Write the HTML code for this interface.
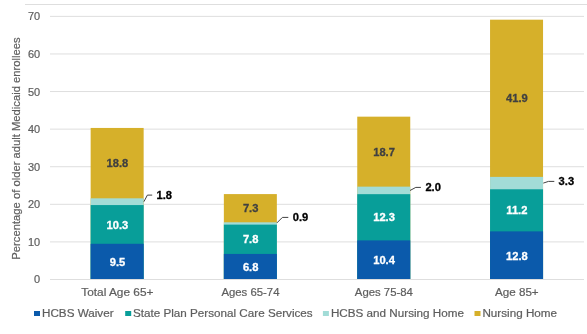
<!DOCTYPE html>
<html><head><meta charset="utf-8"><title>Chart</title><style>
html,body{margin:0;padding:0;background:#fff;width:587px;height:334px;overflow:hidden}
svg{display:block;will-change:transform}
text{font-family:"Liberation Sans",sans-serif}
.ax{font-size:10.4px;fill:#5e5e5e;stroke:#5e5e5e;stroke-width:0.2px}
.ttl{font-size:11.24px}
.dl{font-size:10.9px;font-weight:bold;stroke-width:0.3px}
</style></head><body>
<svg width="587" height="334" viewBox="0 0 587 334">
<line x1="25" y1="4.5" x2="587" y2="4.5" stroke="#dedede" stroke-width="1"/>
<line x1="50" y1="279.50" x2="584" y2="279.50" stroke="#dedede" stroke-width="1"/>
<text transform="translate(40.20,283.45) scale(1.0577,1)" class="ax" text-anchor="end">0</text>
<line x1="50" y1="241.91" x2="584" y2="241.91" stroke="#dedede" stroke-width="1"/>
<text transform="translate(40.20,245.86) scale(1.0577,1)" class="ax" text-anchor="end">10</text>
<line x1="50" y1="204.32" x2="584" y2="204.32" stroke="#dedede" stroke-width="1"/>
<text transform="translate(40.20,208.27) scale(1.0577,1)" class="ax" text-anchor="end">20</text>
<line x1="50" y1="166.73" x2="584" y2="166.73" stroke="#dedede" stroke-width="1"/>
<text transform="translate(40.20,170.68) scale(1.0577,1)" class="ax" text-anchor="end">30</text>
<line x1="50" y1="129.14" x2="584" y2="129.14" stroke="#dedede" stroke-width="1"/>
<text transform="translate(40.20,133.09) scale(1.0577,1)" class="ax" text-anchor="end">40</text>
<line x1="50" y1="91.55" x2="584" y2="91.55" stroke="#dedede" stroke-width="1"/>
<text transform="translate(40.20,95.50) scale(1.0577,1)" class="ax" text-anchor="end">50</text>
<line x1="50" y1="53.96" x2="584" y2="53.96" stroke="#dedede" stroke-width="1"/>
<text transform="translate(40.20,57.91) scale(1.0577,1)" class="ax" text-anchor="end">60</text>
<line x1="50" y1="16.37" x2="584" y2="16.37" stroke="#dedede" stroke-width="1"/>
<text transform="translate(40.20,20.32) scale(1.0577,1)" class="ax" text-anchor="end">70</text>
<rect x="90.65" y="127.94" width="53.0" height="151.06" fill="#d6b02a"/>
<rect x="90.65" y="198.31" width="53.0" height="80.69" fill="#a2dcd7"/>
<rect x="90.65" y="205.07" width="53.0" height="73.93" fill="#089e99"/>
<rect x="90.65" y="243.79" width="53.0" height="35.21" fill="#0b5aab"/>
<text transform="translate(117.45,265.79) scale(1.0257,1)" class="dl" text-anchor="middle" fill="#ffffff" stroke="#ffffff">9.5</text>
<text transform="translate(117.45,228.58) scale(1.0257,1)" class="dl" text-anchor="middle" fill="#ffffff" stroke="#ffffff">10.3</text>
<text transform="translate(117.45,167.12) scale(1.0257,1)" class="dl" text-anchor="middle" fill="#404040" stroke="#404040">18.8</text>
<text transform="translate(117.35,295.60) scale(1.1404,1)" class="ax" text-anchor="middle">Total Age 65+</text>
<rect x="223.85" y="194.09" width="53.0" height="84.91" fill="#d6b02a"/>
<rect x="223.85" y="222.30" width="53.0" height="56.70" fill="#a2dcd7"/>
<rect x="223.85" y="224.62" width="53.0" height="54.38" fill="#089e99"/>
<rect x="223.85" y="253.94" width="53.0" height="25.06" fill="#0b5aab"/>
<text transform="translate(250.65,270.87) scale(1.0257,1)" class="dl" text-anchor="middle" fill="#ffffff" stroke="#ffffff">6.8</text>
<text transform="translate(250.65,243.43) scale(1.0257,1)" class="dl" text-anchor="middle" fill="#ffffff" stroke="#ffffff">7.8</text>
<text transform="translate(250.65,211.67) scale(1.0257,1)" class="dl" text-anchor="middle" fill="#404040" stroke="#404040">7.3</text>
<text transform="translate(250.45,295.60) scale(1.0923,1)" class="ax" text-anchor="middle">Ages 65-74</text>
<rect x="357.25" y="116.66" width="53.0" height="162.34" fill="#d6b02a"/>
<rect x="357.25" y="186.65" width="53.0" height="92.35" fill="#a2dcd7"/>
<rect x="357.25" y="194.17" width="53.0" height="84.83" fill="#089e99"/>
<rect x="357.25" y="240.41" width="53.0" height="38.59" fill="#0b5aab"/>
<text transform="translate(384.05,264.10) scale(1.0257,1)" class="dl" text-anchor="middle" fill="#ffffff" stroke="#ffffff">10.4</text>
<text transform="translate(384.05,221.44) scale(1.0257,1)" class="dl" text-anchor="middle" fill="#ffffff" stroke="#ffffff">12.3</text>
<text transform="translate(384.05,155.66) scale(1.0257,1)" class="dl" text-anchor="middle" fill="#404040" stroke="#404040">18.7</text>
<text transform="translate(383.85,295.60) scale(1.0923,1)" class="ax" text-anchor="middle">Ages 75-84</text>
<rect x="490.05" y="19.68" width="53.0" height="259.32" fill="#d6b02a"/>
<rect x="490.05" y="176.88" width="53.0" height="102.12" fill="#a2dcd7"/>
<rect x="490.05" y="189.28" width="53.0" height="89.72" fill="#089e99"/>
<rect x="490.05" y="231.38" width="53.0" height="47.62" fill="#0b5aab"/>
<text transform="translate(516.85,259.59) scale(1.0257,1)" class="dl" text-anchor="middle" fill="#ffffff" stroke="#ffffff">12.8</text>
<text transform="translate(516.85,214.48) scale(1.0257,1)" class="dl" text-anchor="middle" fill="#ffffff" stroke="#ffffff">11.2</text>
<text transform="translate(516.85,102.28) scale(1.0257,1)" class="dl" text-anchor="middle" fill="#404040" stroke="#404040">41.9</text>
<text transform="translate(516.85,295.60) scale(1.1192,1)" class="ax" text-anchor="middle">Age 85+</text>
<polyline points="143.9,201.7 147.4,195.1 152.2,195.1" fill="none" stroke="#404040" stroke-width="1"/>
<text transform="translate(156.50,198.90) scale(1.0257,1)" class="dl" fill="#000000" stroke="#000000">1.8</text>
<polyline points="276.9,222.9 282.4,217.4 288.3,217.4" fill="none" stroke="#404040" stroke-width="1"/>
<text transform="translate(292.80,221.20) scale(1.0257,1)" class="dl" fill="#000000" stroke="#000000">0.9</text>
<polyline points="410.0,190.5 415.8,187.4 420.9,187.4" fill="none" stroke="#404040" stroke-width="1"/>
<text transform="translate(425.40,191.20) scale(1.0257,1)" class="dl" fill="#000000" stroke="#000000">2.0</text>
<polyline points="543.3,183.1 548.5,181.4 554.3,181.4" fill="none" stroke="#404040" stroke-width="1"/>
<text transform="translate(558.60,185.30) scale(1.0257,1)" class="dl" fill="#000000" stroke="#000000">3.3</text>
<rect x="34" y="311" width="6" height="5" fill="#0b5aab"/>
<text transform="translate(42.00,316.90) scale(1.1250,1)" class="ax">HCBS Waiver</text>
<rect x="125.2" y="311" width="6" height="5" fill="#089e99"/>
<text transform="translate(132.90,316.90) scale(1.1250,1)" class="ax">State Plan Personal Care Services</text>
<rect x="322.9" y="311" width="6" height="5" fill="#a2dcd7"/>
<text transform="translate(330.90,316.90) scale(1.1250,1)" class="ax">HCBS and Nursing Home</text>
<rect x="474.5" y="311" width="6" height="5" fill="#d6b02a"/>
<text transform="translate(482.40,316.90) scale(1.1250,1)" class="ax">Nursing Home</text>
<text transform="translate(20.3,148.5) rotate(-90)" text-anchor="middle" class="ax ttl">Percentage of older adult Medicaid enrollees</text>
</svg>
</body></html>
